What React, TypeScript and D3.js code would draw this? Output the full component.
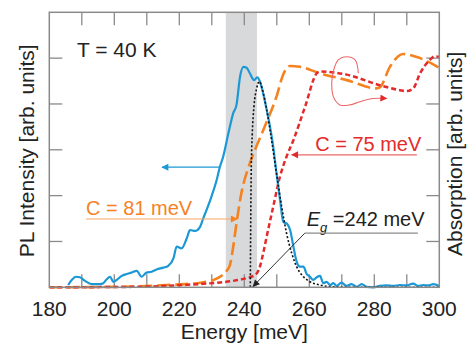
import React, { useEffect, useRef } from "react";
import * as d3 from "d3";

// PL spectrum (energy meV, intensity arb.)
const plEnergy = [185.8, 186.9, 188.2, 189.4, 191.0, 193.0, 195.6, 196.6, 197.6, 198.7, 199.7, 200.7, 202.3, 203.8, 205.3, 206.9, 208.4, 209.9, 211.5, 213.0, 215.1, 216.6, 218.2, 219.2, 220.7, 222.3, 223.3, 224.8, 226.4, 227.4, 228.4, 229.9, 231.5, 232.5, 233.5, 235.1, 236.6, 237.6, 238.7, 239.7, 240.7, 241.7, 243.0, 244.0, 244.8, 245.8, 246.9, 247.9, 248.9, 249.9, 251.0, 252.0, 253.2, 254.1, 255.1, 256.1, 257.1, 258.2, 259.2, 260.2, 261.2, 262.3, 263.3, 264.3, 265.3, 266.4, 267.4, 268.4, 269.9, 271.5, 273.0, 274.6, 276.1, 277.6, 279.7, 281.7, 283.8, 285.8, 287.9, 289.9, 292.0, 293.5, 295.1, 296.6, 298.2, 300.0];
const plValue = [0.05, 0.16, 0.23, 0.22, 0.14, 0.07, 0.07, 0.09, 0.17, 0.23, 0.12, 0.16, 0.25, 0.29, 0.32, 0.36, 0.23, 0.32, 0.34, 0.39, 0.43, 0.47, 0.63, 0.89, 0.85, 1.07, 1.25, 1.23, 1.32, 1.51, 1.69, 1.98, 2.34, 2.63, 2.85, 3.36, 3.8, 3.98, 4.6, 4.81, 4.79, 4.67, 4.52, 4.58, 4.49, 4.23, 3.87, 3.51, 3.07, 2.49, 1.91, 1.43, 1.38, 1.25, 0.89, 0.56, 0.45, 0.45, 0.29, 0.23, 0.16, 0.22, 0.25, 0.09, 0.12, 0.05, 0.09, 0.03, 0.1, 0.03, 0.07, 0.01, 0.07, 0.01, 0, 0.03, 0.04, 0.03, 0.05, 0.04, 0.08, 0.03, 0.05, 0.04, 0.07, 0.03];

// fit with Eg = 242 meV
const fitEnergy = [241.85, 241.95, 242.15, 242.46, 242.97, 243.8, 244.6, 245.6, 246.9, 248.4, 249.9, 251.5, 253.0, 254.6, 256.1, 258.2, 260.2, 263.3, 267.4, 272.5, 300];
const fitValue = [0, 1.18, 2.63, 3.36, 3.94, 4.34, 4.49, 4.31, 3.87, 3.21, 2.49, 1.76, 1.18, 0.74, 0.45, 0.23, 0.12, 0.05, 0.01, 0, 0];

// absorption, C = 81 meV
const abs81Energy = [180, 200.7, 216.1, 226.4, 230.5, 233.0, 234.6, 235.6, 236.6, 237.6, 239.2, 241.2, 243.3, 246.9, 249.9, 252.0, 254.1, 257.1, 263.3, 271.5, 280.7, 281.7, 284.8, 288.9, 294.1, 300];
const abs81Value = [0, 0.01, 0.05, 0.1, 0.16, 0.25, 0.36, 0.49, 0.89, 1.4, 2.09, 2.6, 3.0, 3.61, 4.16, 4.65, 4.83, 4.81, 4.67, 4.52, 4.34, 4.36, 4.81, 5.09, 5.0, 4.79];

// absorption, C = 75 meV
const abs75Energy = [180, 205.8, 221.2, 231.5, 236.6, 240.7, 242.8, 244.0, 244.8, 245.8, 246.9, 248.9, 251.0, 253.0, 255.1, 258.7, 262.3, 263.3, 271.5, 281.7, 287.9, 289.9, 292.0, 294.1, 297.1, 298.6, 300];
const abs75Value = [0, 0.01, 0.05, 0.1, 0.14, 0.2, 0.25, 0.32, 0.45, 0.74, 1.11, 1.76, 2.42, 2.85, 3.21, 3.94, 4.67, 4.71, 4.64, 4.41, 4.3, 4.28, 4.34, 4.67, 4.96, 5.04, 5.03];

const xLabelTicks = [180, 200, 220, 240, 260, 280, 300];
const xMinorTicks = [190, 200, 210, 220, 230, 240, 250, 260, 270, 280, 290];
const yTicks = [1, 2, 3, 4, 5];
const band = [234.3, 243.9];

// curly arrow pointing to the absorption axis
const curlE = [275.1, 274.1, 271.5, 268.9, 267.4, 266.9, 267.4, 269.4, 272.5, 275.6, 279.7, 283.8];
const curlV = [4.67, 4.96, 5.03, 4.96, 4.71, 4.45, 4.16, 3.98, 3.98, 4.05, 4.12, 4.12];

const BLUE = "#1b98d5";
const ORANGE = "#f5821f";
const RED = "#e42a2a";
const FONT = "Liberation Sans, Arial, sans-serif";

const App = () => {
  const ref = useRef<SVGSVGElement>(null);

  useEffect(() => {
    document.body.style.margin = "0";
    const svg = d3.select(ref.current);
    svg.selectAll("*").remove();

    const width = 468;
    const height = 347;
    const left = 49.3;
    const right = 439.3;
    const top = 12.3;
    const bottom = 287.3;

    const x = d3.scaleLinear().domain([180, 300]).range([left, right]);
    const y = d3.scaleLinear().domain([0, 6]).range([bottom, top]);

    svg.attr("width", width).attr("height", height);

    const defs = svg.append("defs");
    const marker = (id: string, color: string) => {
      defs
        .append("marker")
        .attr("id", id)
        .attr("viewBox", "0 0 10 10")
        .attr("refX", 9)
        .attr("refY", 5)
        .attr("markerWidth", 9)
        .attr("markerHeight", 7)
        .attr("markerUnits", "userSpaceOnUse")
        .attr("orient", "auto")
        .append("path")
        .attr("d", "M0,0L10,5L0,10Z")
        .attr("fill", color);
    };
    marker("mBlue", BLUE);
    marker("mOrange", ORANGE);
    marker("mRed", RED);
    marker("mBlack", "#222");

    // shaded band
    svg
      .append("rect")
      .attr("x", x(band[0]))
      .attr("y", top)
      .attr("width", x(band[1]) - x(band[0]))
      .attr("height", bottom - top)
      .attr("fill", "#d8d9da");

    // ticks
    const tickColor = "#8a8a8a";
    const tl = 13;
    const g = svg.append("g").attr("stroke", tickColor).attr("stroke-width", 1.3);
    xMinorTicks.forEach((t) => {
      g.append("line").attr("x1", x(t)).attr("x2", x(t)).attr("y1", bottom).attr("y2", bottom - tl);
      g.append("line").attr("x1", x(t)).attr("x2", x(t)).attr("y1", top).attr("y2", top + tl);
    });
    yTicks.forEach((t) => {
      g.append("line").attr("x1", left).attr("x2", left + tl).attr("y1", y(t)).attr("y2", y(t));
      g.append("line").attr("x1", right).attr("x2", right - tl).attr("y1", y(t)).attr("y2", y(t));
    });

    const clip = defs.append("clipPath").attr("id", "plotClip");
    clip.append("rect").attr("x", left).attr("y", top - 2).attr("width", right - left).attr("height", bottom - top + 4);

    const line = (es: number[], vs: number[]) =>
      d3
        .line<number>()
        .x((_, i) => x(es[i]))
        .y((_, i) => y(vs[i]))
        .curve(d3.curveMonotoneX)(vs);

    const plot = svg.append("g").attr("clip-path", "url(#plotClip)");

    plot
      .append("path")
      .attr("d", line(abs81Energy, abs81Value))
      .attr("fill", "none")
      .attr("stroke", ORANGE)
      .attr("stroke-width", 2.6)
      .attr("stroke-dasharray", "13,5");

    plot
      .append("path")
      .attr("d", line(abs75Energy, abs75Value))
      .attr("fill", "none")
      .attr("stroke", RED)
      .attr("stroke-width", 2.5)
      .attr("stroke-dasharray", "5,3");

    plot
      .append("path")
      .attr("d", line(plEnergy, plValue))
      .attr("fill", "none")
      .attr("stroke", BLUE)
      .attr("stroke-width", 2.2);

    plot
      .append("path")
      .attr("d", line(fitEnergy, fitValue))
      .attr("fill", "none")
      .attr("stroke", "#111")
      .attr("stroke-width", 1.6)
      .attr("stroke-dasharray", "2,2");

    // frame
    svg
      .append("rect")
      .attr("x", left)
      .attr("y", top)
      .attr("width", right - left)
      .attr("height", bottom - top)
      .attr("fill", "none")
      .attr("stroke", tickColor)
      .attr("stroke-width", 1.5);

    // tick labels
    svg
      .append("g")
      .selectAll("text")
      .data(xLabelTicks)
      .join("text")
      .attr("x", (d) => x(d))
      .attr("y", 316)
      .attr("text-anchor", "middle")
      .attr("font-family", FONT)
      .attr("font-size", 21)
      .attr("fill", "#222")
      .text((d) => d);

    // axis titles
    svg
      .append("text")
      .attr("x", (left + right) / 2)
      .attr("y", 339)
      .attr("text-anchor", "middle")
      .attr("font-family", FONT)
      .attr("font-size", 21)
      .attr("fill", "#222")
      .text("Energy [meV]");

    svg
      .append("text")
      .attr("transform", `translate(34,${(top + bottom) / 2 + 1}) rotate(-90)`)
      .attr("text-anchor", "middle")
      .attr("font-family", FONT)
      .attr("font-size", 21)
      .attr("fill", "#222")
      .text("PL Intensity [arb. units]");

    svg
      .append("text")
      .attr("transform", `translate(462,${(top + bottom) / 2 + 4}) rotate(-90)`)
      .attr("text-anchor", "middle")
      .attr("font-family", FONT)
      .attr("font-size", 21)
      .attr("fill", "#222")
      .text("Absorption [arb. units]");

    // annotations
    svg
      .append("text")
      .attr("x", x(188.5))
      .attr("y", y(5.02))
      .attr("font-family", FONT)
      .attr("font-size", 21)
      .attr("fill", "#222")
      .text("T = 40 K");

    const arrow = (e1: number, v1: number, e2: number, v2: number, color: string, m: string, w = 1.2) =>
      svg
        .append("line")
        .attr("x1", x(e1))
        .attr("y1", y(v1))
        .attr("x2", x(e2))
        .attr("y2", y(v2))
        .attr("stroke", color)
        .attr("stroke-width", w)
        .attr("marker-end", `url(#${m})`);

    // PL arrow -> left axis
    arrow(232.5, 2.62, 214.7, 2.62, BLUE, "mBlue");

    // C = 81 meV
    svg
      .append("text")
      .attr("x", x(191.3))
      .attr("y", y(1.58))
      .attr("font-family", FONT)
      .attr("font-size", 20)
      .attr("fill", ORANGE)
      .text("C = 81 meV");
    arrow(191.3, 1.49, 237.8, 1.49, "#f7a865", "mOrange");

    // C = 75 meV
    svg
      .append("text")
      .attr("x", x(261.8))
      .attr("y", y(2.97))
      .attr("font-family", FONT)
      .attr("font-size", 20)
      .attr("fill", RED)
      .text("C = 75 meV");
    arrow(293.1, 2.89, 254.6, 2.89, "#ec6a6a", "mRed");

    // Eg label
    const eg = svg
      .append("text")
      .attr("x", x(259.2))
      .attr("y", y(1.34))
      .attr("font-family", FONT)
      .attr("font-size", 20)
      .attr("fill", "#222");
    eg.append("tspan").attr("font-style", "italic").text("E");
    eg.append("tspan").attr("font-size", 13).attr("font-style", "italic").attr("dy", 6).text("g");
    eg.append("tspan").attr("dy", -6).text(" =242 meV");
    svg
      .append("line")
      .attr("x1", x(258.6))
      .attr("x2", x(293.4))
      .attr("y1", y(1.18))
      .attr("y2", y(1.18))
      .attr("stroke", "#8a8a8a")
      .attr("stroke-width", 1.2);
    arrow(258.6, 1.18, 242.7, 0.02, "#333", "mBlack", 1);

    // curly arrow
    svg
      .append("path")
      .attr(
        "d",
        d3
          .line<number>()
          .x((_, i) => x(curlE[i]))
          .y((_, i) => y(curlV[i]))
          .curve(d3.curveCatmullRom)(curlV)
      )
      .attr("fill", "none")
      .attr("stroke", "#ec6a6a")
      .attr("stroke-width", 1.1)
      .attr("marker-end", "url(#mRed)");
  });

  return <svg ref={ref}></svg>;
};

export default App;
